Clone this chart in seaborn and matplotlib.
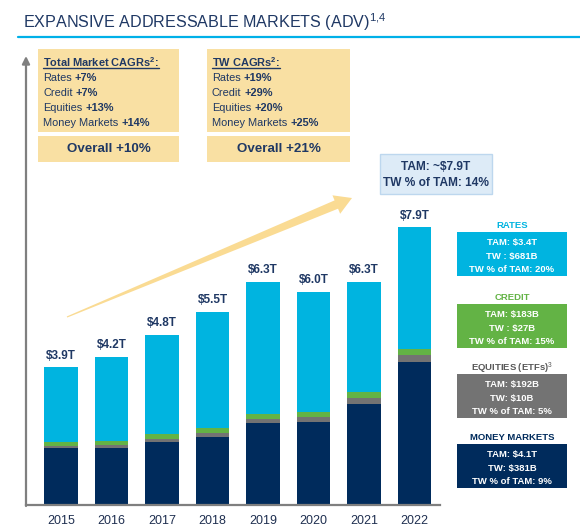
import numpy as np
import pandas as pd
import matplotlib
matplotlib.use("Agg")
import matplotlib.pyplot as plt
from matplotlib.patches import Rectangle, Polygon
import seaborn as sns

# values (trillions of USD ADV)
years = ["2015", "2016", "2017", "2018", "2019", "2020", "2021", "2022"]
money_markets = [1.61, 1.62, 1.78, 1.93, 2.32, 2.35, 2.86, 4.05]
equities = [0.06, 0.08, 0.09, 0.10, 0.11, 0.14, 0.17, 0.19]
credit = [0.11, 0.12, 0.13, 0.15, 0.15, 0.15, 0.16, 0.18]
rates = [2.12, 2.37, 2.81, 3.28, 3.73, 3.39, 3.12, 3.44]
total_labels = ["$3.9T", "$4.2T", "$4.8T", "$5.5T", "$6.3T", "$6.0T", "$6.3T", "$7.9T"]

market_cagrs = [("Rates", "+7%"), ("Credit", "+7%"), ("Equities", "+13%"), ("Money Markets", "+14%")]
tw_cagrs = [("Rates", "+19%"), ("Credit", "+29%"), ("Equities", "+20%"), ("Money Markets", "+25%")]
overall = ["Overall +10%", "Overall +21%"]

side_titles = ["RATES", "CREDIT", "EQUITIES (ETFs)$^3$", "MONEY MARKETS"]
side_lines = [
    ["TAM: $3.4T", "TW : $681B", "TW % of TAM: 20%"],
    ["TAM: $183B", "TW : $27B", "TW % of TAM: 15%"],
    ["TAM: $192B", "TW: $10B", "TW % of TAM: 5%"],
    ["TAM: $4.1T", "TW: $381B", "TW % of TAM: 9%"],
]

CYAN = "#00B4E0"
NAVY = "#002B5C"
GREEN = "#63B345"
GRAY = "#737373"
TXT = "#1F3864"
YELLOW = "#F9E0A3"
AXGRAY = "#7F7F7F"

sns.set_style("white")
plt.rcParams["font.family"] = ["Liberation Sans", "DejaVu Sans"]
plt.rcParams["mathtext.fontset"] = "custom"
plt.rcParams["mathtext.rm"] = "Liberation Sans"
plt.rcParams["mathtext.bf"] = "Liberation Sans:bold"
plt.rcParams["mathtext.it"] = "Liberation Sans"

df = pd.DataFrame({"year": years, "mm": money_markets, "eq": equities,
                   "cr": credit, "rt": rates})
df["c_eq"] = df["mm"] + df["eq"]
df["c_cr"] = df["c_eq"] + df["cr"]
df["total"] = df["c_cr"] + df["rt"]

W, H = 580, 531
fig = plt.figure(figsize=(W / 100, H / 100), dpi=100)
ax = fig.add_axes([26 / W, (H - 505) / H, (440 - 26) / W, (505 - 57) / H])

# stacked bars drawn as overlapping cumulative bars
for col, colr in [("total", CYAN), ("c_cr", GREEN), ("c_eq", GRAY), ("mm", NAVY)]:
    sns.barplot(data=df, x="year", y=col, color=colr, saturation=1, width=0.66,
                ax=ax, linewidth=0)

for i, (tot, lab) in enumerate(zip(df["total"], total_labels)):
    ax.annotate(lab, xy=(i, tot), xytext=(0, 4), textcoords="offset points",
                ha="center", va="bottom", fontsize=8.5, fontweight="bold", color=TXT)

ax.set_xlim(-0.69, 7.5)
ax.set_ylim(0, 12.67)
ax.set_xlabel("")
ax.set_ylabel("")
ax.set_yticks([])
ax.set_xticks(range(len(years)))
ax.set_xticklabels(years, fontsize=9, color="#1F2F50")
ax.set_xticks(np.arange(-0.5, len(years)), minor=True)
ax.tick_params(axis="x", which="major", length=0, pad=7)
ax.tick_params(axis="x", which="minor", length=3, color=AXGRAY, width=1)
for s in ["top", "right", "left"]:
    ax.spines[s].set_visible(False)
ax.spines["bottom"].set_color(AXGRAY)
ax.spines["bottom"].set_linewidth(1.6)
ax.patch.set_alpha(0)

# overlay in pixel coordinates for the slide decorations
ov = fig.add_axes([0, 0, 1, 1])
ov.set_xlim(0, W)
ov.set_ylim(H, 0)
ov.axis("off")

ov.text(23, 22, r"EXPANSIVE ADDRESSABLE MARKETS (ADV)$^{1{,}4}$", fontsize=11.6,
        color=TXT, va="center", ha="left")
ov.plot([18, W], [37, 37], color="#00B0E8", lw=1.6)

# vertical axis with arrow
ov.annotate("", xy=(26, 56), xytext=(26, 506),
            arrowprops=dict(arrowstyle="-|>", color=AXGRAY, lw=1.6,
                            mutation_scale=11, shrinkA=0, shrinkB=0))

# growth arrow
p0 = np.array([67.0, 317.0])
p1 = np.array([352.0, 198.0])
u = (p1 - p0) / np.linalg.norm(p1 - p0)
n = np.array([-u[1], u[0]])
base = p1 - 17 * u
arrow_pts = [p0 + 0.6 * n, base + 4.5 * n, base + 10 * n, p1,
             base - 10 * n, base - 4.5 * n, p0 - 0.6 * n]
ov.add_patch(Polygon(arrow_pts, closed=True, facecolor="#FADB93", edgecolor="none"))

FS = 7.9

# CAGR boxes
def cagr_box(x0, x1, header, rows, over):
    ov.add_patch(Rectangle((x0, 49), x1 - x0, 83, facecolor=YELLOW, edgecolor="none"))
    ov.add_patch(Rectangle((x0, 136), x1 - x0, 26, facecolor=YELLOW, edgecolor="none"))
    h = ov.text(x0 + 5, 62, header, fontsize=FS, fontweight="bold", color=TXT,
                va="center", ha="left")
    for k, (name, val) in enumerate(rows):
        t = ov.text(x0 + 5, 78 + 15 * k, name, fontsize=FS, color=TXT,
                    va="center", ha="left")
        ov.annotate(val, xy=(1, 0), xycoords=t, xytext=(2, 0),
                    textcoords="offset points", fontsize=FS, fontweight="bold",
                    color=TXT, va="bottom", ha="left")
    ov.text((x0 + x1) / 2, 149, over, fontsize=9.6, fontweight="bold", color=TXT,
            va="center", ha="center")
    return h

h1 = cagr_box(38, 179, r"Total Market CAGRs$^\mathbf{2}$:", market_cagrs, overall[0])
h2 = cagr_box(207, 350, r"TW CAGRs$^\mathbf{2}$:", tw_cagrs, overall[1])

# TAM callout
ov.add_patch(Rectangle((380, 154), 112, 40, facecolor="#DDEBF7", edgecolor="#BDD7EE", lw=1))
ov.text(436, 167, "TAM: ~$7.9T", fontsize=8.6, fontweight="bold", color=TXT,
        ha="center", va="center")
ov.text(436, 183, "TW % of TAM: 14%", fontsize=8.6, fontweight="bold", color=TXT,
        ha="center", va="center")

# segment summary boxes
box_tops = [232, 304, 374, 444]
box_cols = [CYAN, GREEN, GRAY, NAVY]
title_cols = [CYAN, GREEN, "#595959", NAVY]
for top, fc, tc, title, lines in zip(box_tops, box_cols, title_cols, side_titles, side_lines):
    ov.text(512, top - 6, title, fontsize=6.8, fontweight="bold", color=tc,
            ha="center", va="center")
    ov.add_patch(Rectangle((457, top), 110, 44, facecolor=fc, edgecolor="none"))
    for k, line in enumerate(lines):
        ov.text(512, top + 10 + 14 * k, line, fontsize=6.8, fontweight="bold",
                color="white", ha="center", va="center")

# underline the CAGR headers
fig.canvas.draw()
inv = ov.transData.inverted()
for h in (h1, h2):
    bb = h.get_window_extent()
    (xa, ya), (xb, yb) = inv.transform([[bb.x0, bb.y0], [bb.x1, bb.y1]])
    ov.plot([xa, xb], [ya - 0.5, ya - 0.5], color=TXT, lw=1)

fig.savefig("out.png", dpi=100)
